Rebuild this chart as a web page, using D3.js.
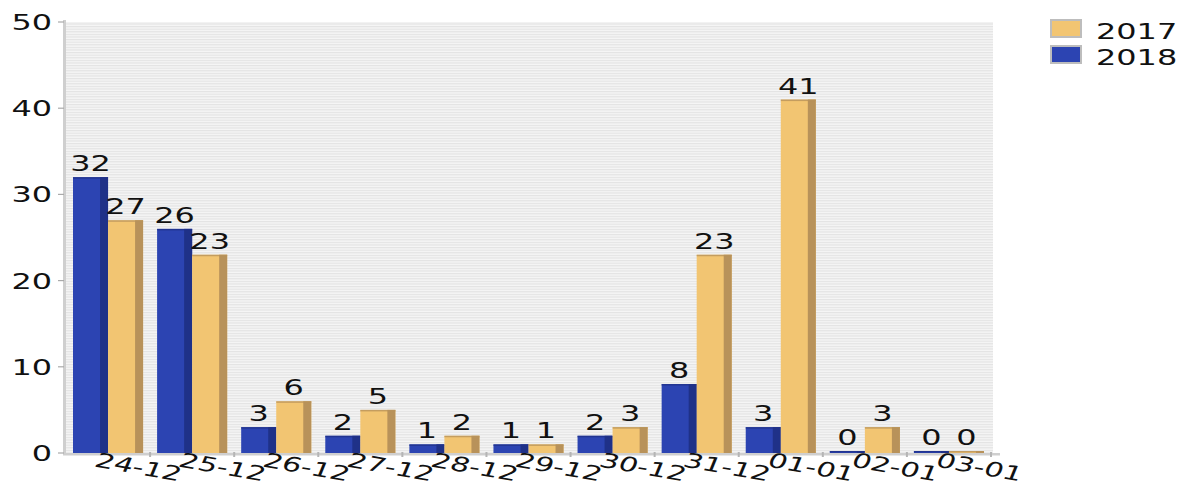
<!DOCTYPE html>
<html><head><meta charset="utf-8">
<script src="https://cdn.jsdelivr.net/npm/d3@7"></script>
<style>body{margin:0;background:#fff}svg{display:block}text{font-family:"DejaVu Sans",sans-serif;fill:#111}</style>
</head><body><svg id="c" width="1185" height="485"></svg>
<script>
const categories = ["24-12","25-12","26-12","27-12","28-12","29-12","30-12","31-12","01-01","02-01","03-01"];
const seriesNames = ["2018","2017"];
const values2018 = [32,26,3,2,1,1,2,8,3,0,0];
const values2017 = [27,23,6,5,2,1,3,23,41,3,0];
const yTicks = [0,10,20,30,40,50];
const legendOrder = ["2017","2018"];

const SX = 1.52, FS = 21;
const colors = {"2018":"#2c44b2","2017":"#f2c572"};
const sides = {"2018":"#1f3188","2017":"#b8925a"};
const svg = d3.select("#c");
const L = 66, R = 991, T = 22, B = 453;
const x0 = d3.scaleBand().domain(categories).range([L, R]).padding(0);
const x1 = d3.scaleBand().domain(seriesNames).range([0, x0.bandwidth()]).paddingInner(0).paddingOuter(0.2);
const y = d3.scaleLinear().domain([0,50]).range([B, T]);

function stext(g, x, yy, str, anchor, extra) {
  return g.append("text").attr("transform", `translate(${x},${yy}) scale(${SX},1)` + (extra||""))
    .attr("text-anchor", anchor||"middle").style("font-size", FS+"px").text(str);
}

// background stripes
const defs = svg.append("defs");
const pat = defs.append("pattern").attr("id","st").attr("patternUnits","userSpaceOnUse").attr("width",4).attr("height",2.6);
pat.append("rect").attr("width",4).attr("height",2.6).attr("fill","#f6f6f6");
pat.append("rect").attr("width",4).attr("height",1.2).attr("fill","#e3e3e3");
svg.append("rect").attr("x",L).attr("y",T).attr("width",R-L+2).attr("height",B-T).attr("fill","url(#st)");

// axes lines
svg.append("rect").attr("x",L-3).attr("y",T-2).attr("width",3).attr("height",B-T+4).attr("fill","#cfcfcf");
svg.append("rect").attr("x",L-3).attr("y",B).attr("width",R-L+12).attr("height",2.5).attr("fill","#cfcfcf");

// y ticks
const yAxis = svg.append("g");
yTicks.forEach(t => {
  yAxis.append("line").attr("x1",L-8).attr("x2",L-2).attr("y1",y(t)).attr("y2",y(t)).attr("stroke","#aaa").attr("stroke-width",1.2);
  stext(yAxis, 52, y(t)+8, String(t), "end");
});
// category boundary ticks
categories.forEach((c,i) => {
  if (i>0) svg.append("rect").attr("x",x0(c)-1).attr("y",B-1).attr("width",2).attr("height",5).attr("fill","#b5b5b5");
});
svg.append("rect").attr("x",R-1).attr("y",B-1).attr("width",2).attr("height",5).attr("fill","#b5b5b5");

// bars
const data = categories.map((c,i)=>({c, vals:{"2018":values2018[i],"2017":values2017[i]}}));
const bars = svg.append("g");
data.forEach(d => {
  seriesNames.forEach(s => {
    const v = d.vals[s];
    const bx = x0(d.c) + x1(s), bw = x1.bandwidth();
    const top = v === 0 ? B - 2 : y(v);
    const h = B - top;
    bars.append("rect").attr("x",bx).attr("y",top).attr("width",bw).attr("height",h).attr("fill",colors[s]);
    bars.append("rect").attr("x",bx+bw-8).attr("y",top).attr("width",8).attr("height",h).attr("fill",sides[s]);
    bars.append("rect").attr("x",bx).attr("y",top).attr("width",bw).attr("height",Math.min(1.5,h)).attr("fill",sides[s]).attr("opacity",0.8);
    stext(bars, bx + bw/2, top - 6, String(v), "middle");
  });
});

// x labels
const xl = svg.append("g");
categories.forEach(c => {
  const cx = x0(c) + x0.bandwidth()/2;
  xl.append("text").attr("transform", `translate(${cx-9},${B-1}) scale(${SX},1) rotate(15)`)
    .attr("text-anchor","start").attr("dy","0.74em").style("font-size","20px").text(c);
});

// legend
const lg = svg.append("g");
legendOrder.forEach((s,i) => {
  const yy = 20 + i*26;
  lg.append("rect").attr("x",1051).attr("y",yy).attr("width",30).attr("height",17).attr("fill",colors[s]).attr("stroke","#bdbdbd").attr("stroke-width",2);
  stext(lg, 1096, yy+19, s, "start");
});
</script></body></html>
